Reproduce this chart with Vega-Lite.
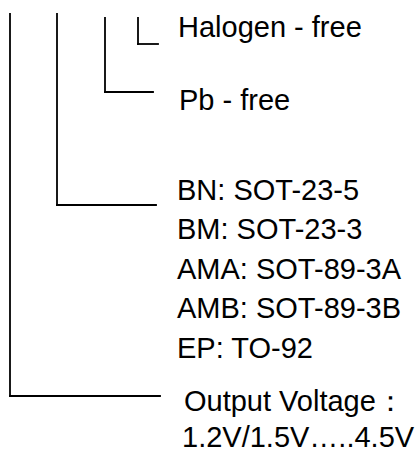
{
  "$schema": "https://vega.github.io/schema/vega-lite/v6.json",
  "width": 417,
  "height": 453,
  "autosize": {"type": "none"},
  "padding": 0,
  "background": "white",
  "config": {"view": {"stroke": null}},
  "layer": [
    {
      "data": {"values": [
        {"x": 10, "y": 14, "x2": 10, "y2": 396},
        {"x": 10, "y": 396, "x2": 160, "y2": 396},
        {"x": 57, "y": 14, "x2": 57, "y2": 205},
        {"x": 57, "y": 205, "x2": 156, "y2": 205},
        {"x": 105, "y": 18, "x2": 105, "y2": 92},
        {"x": 105, "y": 92, "x2": 153, "y2": 92},
        {"x": 138, "y": 18, "x2": 138, "y2": 44},
        {"x": 138, "y": 44, "x2": 158, "y2": 44}
      ]},
      "mark": {"type": "rule", "color": "black", "strokeWidth": 1.8, "strokeCap": "square"},
      "encoding": {
        "x": {"field": "x", "type": "quantitative", "scale": {"domain": [0, 417], "nice": false, "zero": false}, "axis": null},
        "y": {"field": "y", "type": "quantitative", "scale": {"domain": [0, 453], "nice": false, "zero": false, "reverse": true}, "axis": null},
        "x2": {"field": "x2"},
        "y2": {"field": "y2"}
      }
    },
    {
      "data": {"values": [
        {"x": 178, "y": 37, "label": "Halogen - free"},
        {"x": 179, "y": 110, "label": "Pb - free"},
        {"x": 177, "y": 200, "label": "BN: SOT-23-5"},
        {"x": 177, "y": 239, "label": "BM: SOT-23-3"},
        {"x": 177, "y": 279, "label": "AMA: SOT-89-3A"},
        {"x": 177, "y": 318, "label": "AMB: SOT-89-3B"},
        {"x": 177, "y": 358, "label": "EP: TO-92"},
        {"x": 184, "y": 411, "label": "Output Voltage："},
        {"x": 182, "y": 447, "label": "1.2V/1.5V…..4.5V"}
      ]},
      "mark": {"type": "text", "align": "left", "baseline": "alphabetic", "font": "Liberation Sans", "fontSize": 29, "color": "black"},
      "encoding": {
        "x": {"field": "x", "type": "quantitative", "scale": {"domain": [0, 417], "nice": false, "zero": false}, "axis": null},
        "y": {"field": "y", "type": "quantitative", "scale": {"domain": [0, 453], "nice": false, "zero": false, "reverse": true}, "axis": null},
        "text": {"field": "label"}
      }
    }
  ]
}
